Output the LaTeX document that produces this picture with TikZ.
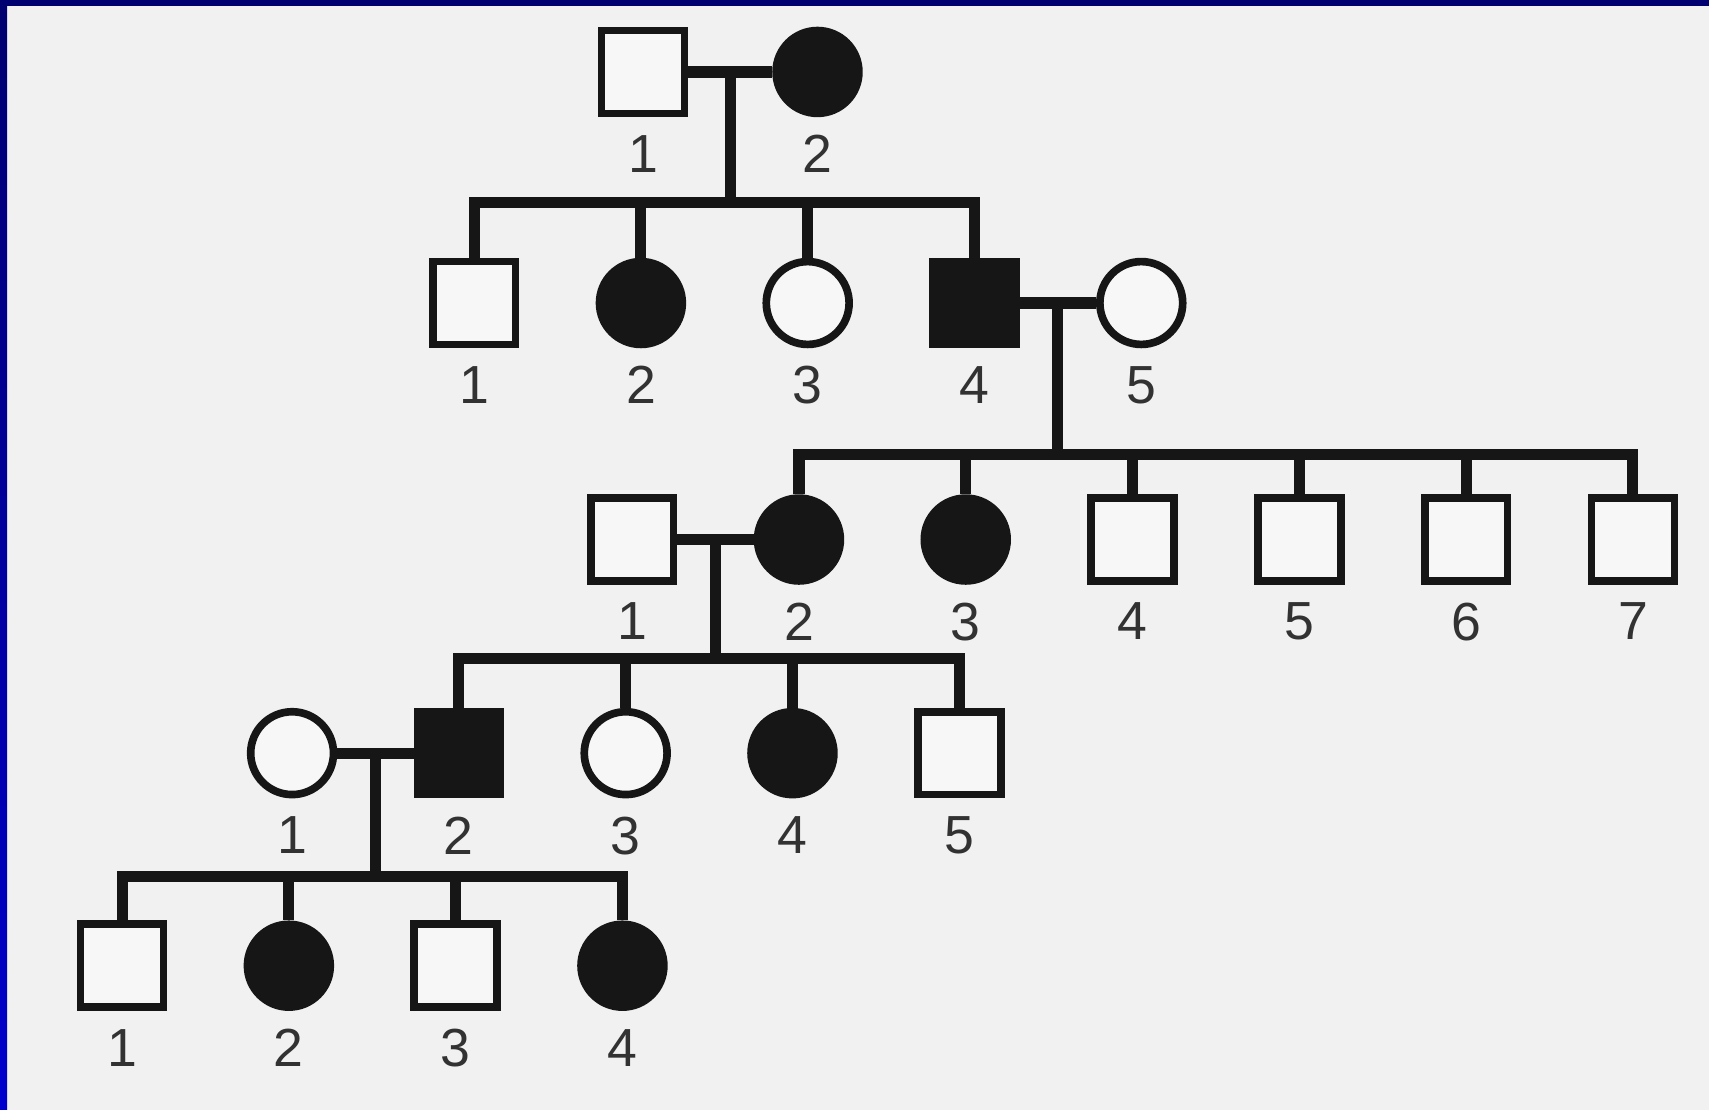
\documentclass[tikz,border=0pt]{standalone}
\usepackage{fontspec}
\setsansfont{Liberation Sans}
\usepackage{tikz}
\usetikzlibrary{positioning,calc}
\definecolor{ink}{RGB}{22,22,22}
\definecolor{paper}{RGB}{241,241,241}
\definecolor{numgray}{RGB}{50,50,50}
\definecolor{framenavy}{RGB}{0,0,112}
\definecolor{frameblue}{RGB}{0,0,205}
\tikzset{
  male/.style={rectangle,draw=ink,line width=2pt,fill=white!40!paper,minimum size=7.6mm,inner sep=0pt},
  female/.style={male,circle},
  ill/.style={fill=ink},
  tie/.style={draw=ink,line width=2.9pt},
  every label/.style={font=\sffamily\fontsize{14}{14}\selectfont,text=numgray,inner sep=0pt}
}

\begin{document}
\begin{tikzpicture}[node distance=0.7cm,label distance=1.6mm]
  % sheet and frame
  \fill[paper] (0,0) rectangle (15.68,-10.18);
  \shade[top color=framenavy,bottom color=frameblue] (0,0) rectangle (0.065,-10.18);
  \fill[framenavy] (0,0) rectangle (15.68,-0.055);
  \useasboundingbox (0,0) rectangle (15.68,-10.18);

  % generation I
  \node[male,label=below:1] (I1) at (5.90,-0.66) {};
  \node[female,ill,label=below:2,right=0.77cm of I1] (I2) {};
  \coordinate (c1) at ($(I1)!0.5!(I2)$);
  \coordinate (s1) at (c1 |- 0,-1.86);

  % generation II
  \node[male,label=below:1] (II1) at (4.35,-2.78) {};
  \node[female,ill,label=below:2,right=of II1] (II2) {};
  \node[female,label=below:3,right=of II2] (II3) {};
  \node[male,ill,label=below:4,right=of II3] (II4) {};
  \node[female,label=below:5,right=of II4] (II5) {};
  \coordinate (c2) at ($(II4)!0.5!(II5)$);
  \coordinate (s2) at (c2 |- 0,-4.17);

  % generation III
  \node[male,label=below:1] (III1) at (5.80,-4.95) {};
  \node[female,ill,label=below:2,right=of III1] (III2) {};
  \node[female,ill,label=below:3,right=of III2] (III3) {};
  \node[male,label=below:4,right=of III3] (III4) {};
  \node[male,label=below:5,right=of III4] (III5) {};
  \node[male,label=below:6,right=of III5] (III6) {};
  \node[male,label=below:7,right=of III6] (III7) {};
  \coordinate (c3) at ($(III1)!0.5!(III2)$);
  \coordinate (s3) at (c3 |- 0,-6.04);

  % generation IV
  \node[female,label=below:1] (IV1) at (2.68,-6.91) {};
  \node[male,ill,label=below:2,right=of IV1] (IV2) {};
  \node[female,label=below:3,right=of IV2] (IV3) {};
  \node[female,ill,label=below:4,right=of IV3] (IV4) {};
  \node[male,label=below:5,right=of IV4] (IV5) {};
  \coordinate (c4) at ($(IV1)!0.5!(IV2)$);
  \coordinate (s4) at (c4 |- 0,-8.04);

  % generation V
  \node[male,label=below:1] (V1) at (1.12,-8.86) {};
  \node[female,ill,label=below:2,right=of V1] (V2) {};
  \node[male,label=below:3,right=of V2] (V3) {};
  \node[female,ill,label=below:4,right=of V3] (V4) {};

  % marriages
  \draw[tie] (I1) -- (I2);
  \draw[tie] (II4) -- (II5);
  \draw[tie] (III1) -- (III2);
  \draw[tie] (IV1) -- (IV2);

  % sibships
  \draw[tie] (c1) -- (s1);
  \draw[tie] (II1.north) |- (s1) -| (II4.north);
  \draw[tie] (II2.north) -- (II2 |- s1);
  \draw[tie] (II3.north) -- (II3 |- s1);

  \draw[tie] (c2) -- (s2);
  \draw[tie] (III2.north) |- (s2) -| (III7.north);
  \draw[tie] (III3.north) -- (III3 |- s2);
  \draw[tie] (III4.north) -- (III4 |- s2);
  \draw[tie] (III5.north) -- (III5 |- s2);
  \draw[tie] (III6.north) -- (III6 |- s2);

  \draw[tie] (c3) -- (s3);
  \draw[tie] (IV2.north) |- (s3) -| (IV5.north);
  \draw[tie] (IV3.north) -- (IV3 |- s3);
  \draw[tie] (IV4.north) -- (IV4 |- s3);

  \draw[tie] (c4) -- (s4);
  \draw[tie] (V1.north) |- (s4) -| (V4.north);
  \draw[tie] (V2.north) -- (V2 |- s4);
  \draw[tie] (V3.north) -- (V3 |- s4);
\end{tikzpicture}
\end{document}
